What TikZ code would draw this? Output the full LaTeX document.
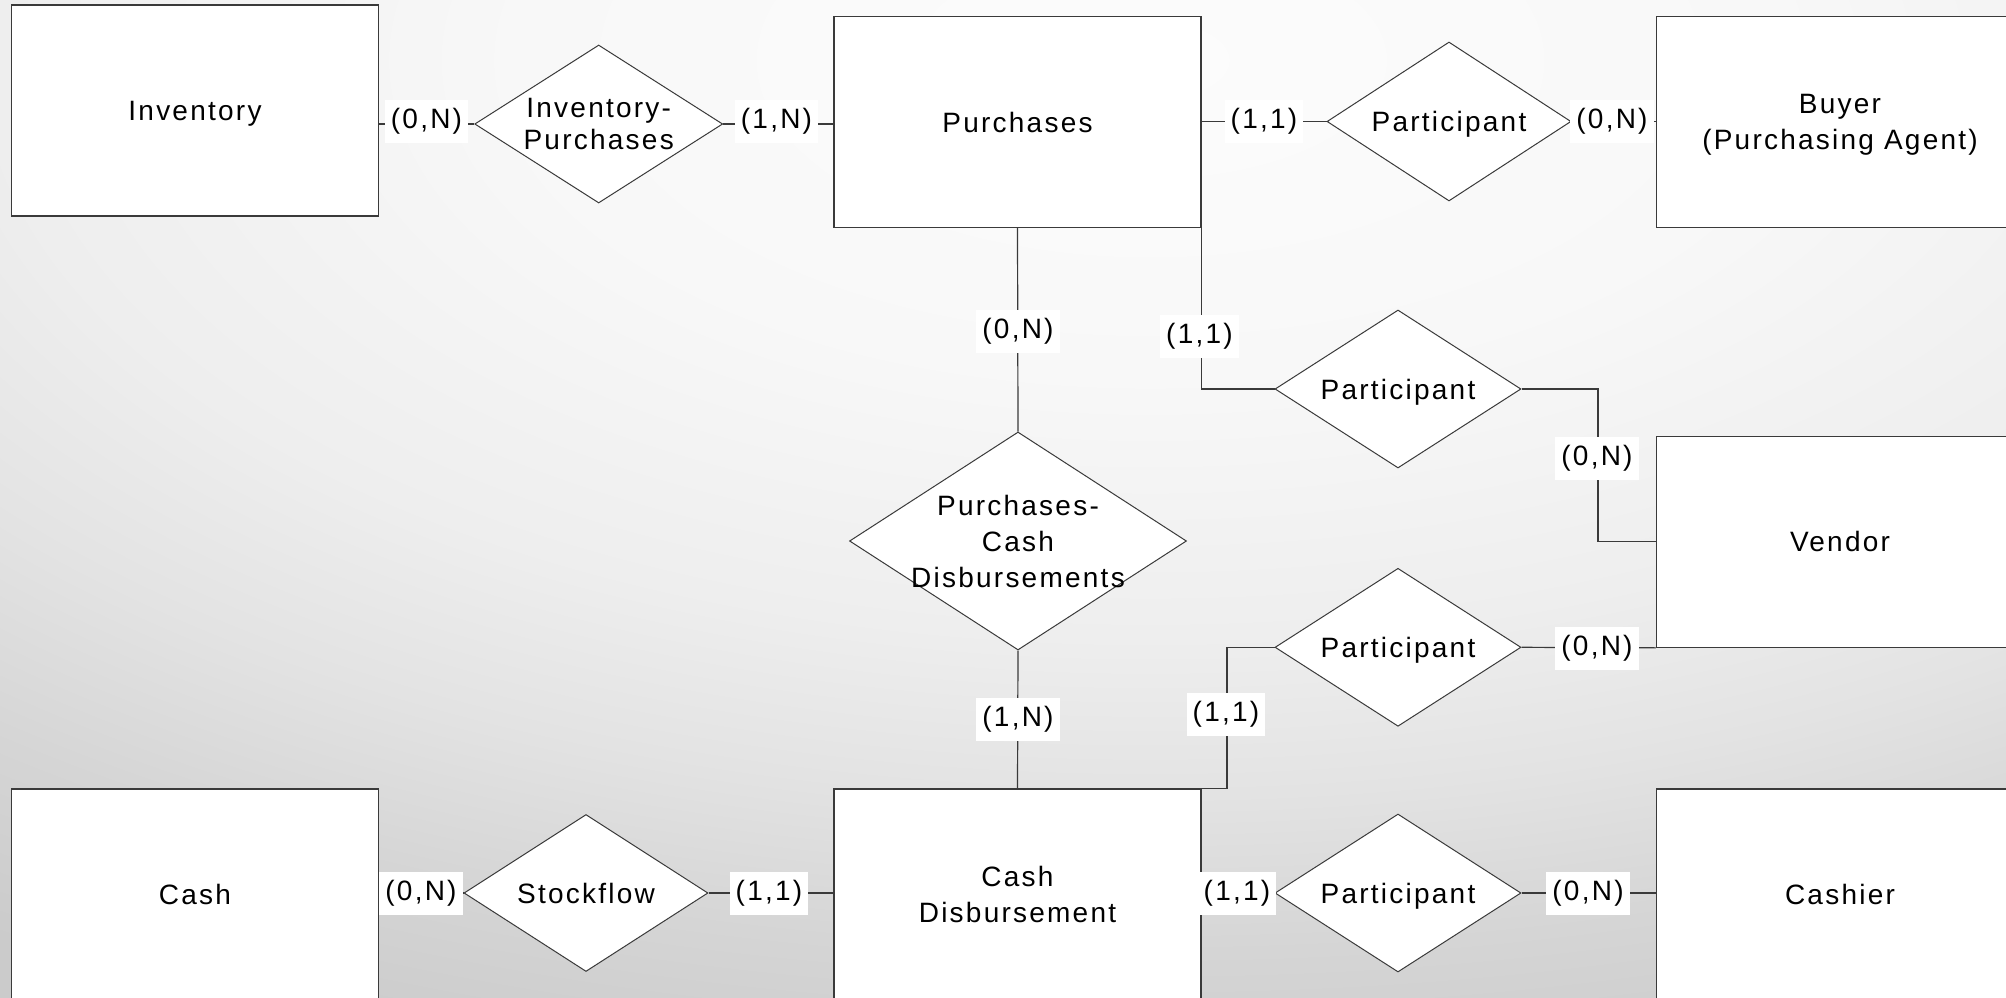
\documentclass[tikz,border=0pt]{standalone}
\usepackage{fontspec}
\setmainfont{Liberation Sans}[LetterSpace=8]
\usetikzlibrary{shapes.geometric}

% page background colours (light centre, grey rim)
\definecolor{bgA}{HTML}{FCFCFC}
\definecolor{bgB}{HTML}{F8F8F8}
\definecolor{bgC}{HTML}{EEEEEE}
\definecolor{bgD}{HTML}{E3E3E3}
\definecolor{bgE}{HTML}{D5D5D5}
\definecolor{bgF}{HTML}{CBCBCB}
\definecolor{edge}{HTML}{3A3A3A}
% the path's bounding box maps onto a 25bp radius
\pgfdeclareradialshading{pagebg}{\pgfpoint{0bp}{0bp}}{%
  color(0bp)=(bgA); color(7.5bp)=(bgB); color(13.75bp)=(bgC);
  color(17.5bp)=(bgD); color(21.25bp)=(bgE); color(25bp)=(bgF);
  color(50bp)=(bgF)}

\tikzset{
  erfont/.style={font=\fontsize{28}{36}\selectfont},
  entity/.style={draw=edge, line width=1.3pt, fill=white, rectangle,
    minimum width=367pt, minimum height=211pt, inner sep=0pt, erfont,
    align=center, text depth=0pt},
  relation/.style={draw=edge, line width=1pt, fill=white, diamond, inner sep=0pt},
  reltext/.style={erfont, align=center, inner sep=0pt, text depth=0pt},
  card/.style={fill=white, erfont, inner xsep=6pt, inner ysep=0pt, minimum height=43pt},
  link/.style={draw=edge, line width=1.2pt},
}

\begin{document}
\begin{tikzpicture}[x=1pt, y=-1pt]
\useasboundingbox (0,0) rectangle (2006,998);

% background
\begin{scope}
  \clip (0,0) rectangle (2006,998);
  \fill[bgF] (0,0) rectangle (2006,998);
  \shade[shading=pagebg] (1150,60) ellipse [x radius=2100pt, y radius=1050pt];
\end{scope}

% entities
\node[entity] (inv)     at (195,110.5)  {Inventory};
\node[entity] (pur)     at (1017.5,122) {Purchases};
\node[entity] (buyer)   at (1840,122)   {Buyer\\(Purchasing Agent)};
\node[entity] (vendor)  at (1840,541.7) {Vendor};
\node[entity] (cash)    at (195,894.5)  {Cash};
\node[entity] (cd)      at (1017.5,894.5) {Cash\\Disbursement};
\node[entity] (cashier) at (1840,894.5) {Cashier};

% relationships
\node[relation, minimum width=248pt, minimum height=158pt] (ip)  at (598.7,124) {};
\node[relation, minimum width=244pt, minimum height=159pt] (p1)  at (1449,121.5) {};
\node[relation, minimum width=337pt, minimum height=218pt] (pcd) at (1018,541) {};
\node[relation, minimum width=246pt, minimum height=158pt] (p2)  at (1398,389) {};
\node[relation, minimum width=246pt, minimum height=158pt] (p3)  at (1398,647.3) {};
\node[relation, minimum width=244pt, minimum height=157pt] (sf)  at (586,893) {};
\node[relation, minimum width=246pt, minimum height=158pt] (p4)  at (1398,893) {};

\node[reltext, font=\fontsize{28}{32}\selectfont] (ipt) at (ip) {Inventory-\\Purchases};
\node[reltext] (p1t)  at (p1)  {Participant};
\node[reltext] (pcdt) at (pcd) {Purchases-\\Cash\\Disbursements};
\node[reltext] (p2t)  at (p2)  {Participant};
\node[reltext] (p3t)  at (p3)  {Participant};
\node[reltext] (sft)  at (sf)  {Stockflow};
\node[reltext] (p4t)  at (p4)  {Participant};

% connectors
\coordinate (vbend) at (1598,389);
\coordinate (cbend) at (1227,647.3);

\draw[link] (inv.east |- ip.west) -- (ip.west);
\draw[link] (ip.east) -- (pur.west |- ip.east);
\draw[link] (pur.east |- p1.west) -- (p1.west);
\draw[link] (p1.east) -- (buyer.west |- p1.east);
\draw[link] (pur.south) -- (pcd.north);
\draw[link] (pcd.south) -- (cd.north);
\draw[link] (pur.south east) |- (p2.west);
\draw[link] (p2.east) -- (vbend) |- (vendor.west);
\draw[link] (p3.east) -- (vendor.south west);
\draw[link] (p3.west) -- (cbend) -- (cbend |- cd.north) -- (cd.north east);
\draw[link] (cash.east |- sf.west) -- (sf.west);
\draw[link] (sf.east) -- (cd.west |- sf.east);
\draw[link] (cd.east |- p4.west) -- (p4.west);
\draw[link] (p4.east) -- (cashier.west |- p4.east);

% cardinalities
\node[card] (c1)  at (426.5,121)   {(0,N)};
\node[card] (c2)  at (776.5,121)   {(1,N)};
\node[card] (c3)  at (1264,121)    {(1,1)};
\node[card] (c4)  at (1612,121)    {(0,N)};
\node[card] (c5)  at (1018,331)    {(0,N)};
\node[card] (c6)  at (1199.5,336)  {(1,1)};
\node[card] (c7)  at (1597,458)    {(0,N)};
\node[card] (c8)  at (1597,648)    {(0,N)};
\node[card] (c9)  at (1018,719)    {(1,N)};
\node[card] (c10) at (1226,714)    {(1,1)};
\node[card] (c11) at (421,893)     {(0,N)};
\node[card] (c12) at (769,893)     {(1,1)};
\node[card] (c13) at (1237,893)    {(1,1)};
\node[card] (c14) at (1588,893)    {(0,N)};
\end{tikzpicture}
\end{document}
